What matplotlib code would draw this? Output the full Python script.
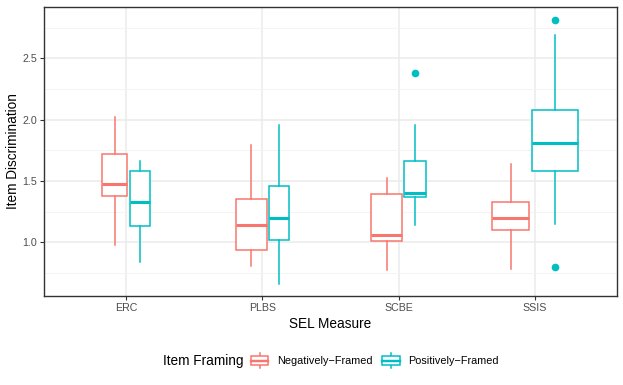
import matplotlib
matplotlib.use("Agg")
from matplotlib import pyplot as plt
from matplotlib.legend_handler import HandlerBase
from matplotlib.patches import Rectangle, Patch
from matplotlib.lines import Line2D
from matplotlib.ticker import MultipleLocator

plt.rcParams['font.family'] = ['Liberation Sans', 'DejaVu Sans']

measures = ["ERC", "PLBS", "SCBE", "SSIS"]
framings = ["Negatively\u2212Framed", "Positively\u2212Framed"]

# box statistics per measure: [negative, positive]
whislo = [[0.98, 0.84], [0.81, 0.66], [0.77, 1.14], [0.78, 1.15]]
q1 = [[1.38, 1.13], [0.94, 1.02], [1.01, 1.37], [1.10, 1.58]]
med = [[1.475, 1.325], [1.14, 1.20], [1.06, 1.40], [1.20, 1.81]]
q3 = [[1.72, 1.58], [1.35, 1.46], [1.39, 1.665], [1.33, 2.075]]
whishi = [[2.02, 1.66], [1.79, 1.955], [1.52, 1.955], [1.64, 2.69]]
fliers = [[[], []], [[], []], [[], [2.38]], [[], [2.815, 0.795]]]

# varwidth box widths (data units)
widths = [[0.187, 0.151], [0.229, 0.144], [0.222, 0.159], [0.276, 0.339]]
gap = 0.018

colors = ["#F8766D", "#00BFC4"]
lw = 1.1


class HandlerBox(HandlerBase):
    def create_artists(self, legend, orig_handle, xdescent, ydescent,
                       width, height, fontsize, trans):
        c = orig_handle.get_edgecolor()
        h = height * 1.5
        y0 = -ydescent - (h - height) / 2
        bh = h * 0.6
        by = y0 + (h - bh) / 2
        box = Rectangle((-xdescent, by), width, bh, facecolor="white",
                        edgecolor=c, lw=lw, transform=trans)
        mid = Line2D([-xdescent, -xdescent + width], [by + bh / 2] * 2,
                     color=c, lw=lw * 1.6, transform=trans)
        wx = -xdescent + width / 2
        w1 = Line2D([wx, wx], [y0, by], color=c, lw=lw, transform=trans)
        w2 = Line2D([wx, wx], [by + bh, y0 + h], color=c, lw=lw, transform=trans)
        return [w1, w2, box, mid]


fig = plt.figure(figsize=(6.23, 3.85), dpi=100)
ax = fig.add_axes([0.0711, 0.2312, 0.9188, 0.7514])

for i in range(len(measures)):
    total = widths[i][0] + widths[i][1] + gap
    left = (i + 1) - total / 2
    centers = [left + widths[i][0] / 2, left + widths[i][0] + gap + widths[i][1] / 2]
    for j in range(2):
        stats = [dict(whislo=whislo[i][j], q1=q1[i][j], med=med[i][j],
                      q3=q3[i][j], whishi=whishi[i][j], fliers=fliers[i][j])]
        c = colors[j]
        ax.bxp(stats, positions=[centers[j]], widths=[widths[i][j]],
               patch_artist=True, showcaps=False, manage_ticks=False,
               boxprops=dict(facecolor="white", edgecolor=c, lw=lw),
               whiskerprops=dict(color=c, lw=lw),
               medianprops=dict(color=c, lw=lw * 2.0, solid_capstyle="butt"),
               flierprops=dict(marker="o", markerfacecolor=c, markeredgecolor=c,
                               markersize=4.5, linestyle="none"),
               zorder=3)

ax.set_xlim(0.4, 4.6)
ax.set_ylim(0.562, 2.92)
ax.set_xticks(range(1, len(measures) + 1))
ax.set_xticklabels(measures)
ax.yaxis.set_major_locator(MultipleLocator(0.5))
ax.yaxis.set_minor_locator(MultipleLocator(0.25))
ax.grid(True, which="major", color="#EBEBEB", lw=1.1, zorder=0)
ax.grid(True, which="minor", axis="y", color="#F3F3F3", lw=0.6, zorder=0)
ax.set_axisbelow(True)
for s in ax.spines.values():
    s.set_color("#333333")
    s.set_linewidth(1.0)
ax.tick_params(which="major", colors="#333333", labelcolor="#4D4D4D",
               labelsize=7.7, length=3, width=0.8, pad=2)
ax.tick_params(which="minor", length=0)

ax.set_xlabel("SEL Measure", fontsize=9.8, labelpad=3)
ax.set_ylabel("Item Discrimination", fontsize=9.8)
ax.yaxis.set_label_coords(-0.042, 0.5)

fig.text(163 / 623, 1 - 361 / 385, "Item Framing", fontsize=9.8, va="center", ha="left")
handles = [Patch(edgecolor=c, facecolor="white") for c in colors]
fig.legend(handles, framings, handler_map={Patch: HandlerBox()},
           loc="center left", bbox_to_anchor=(251 / 623, 1 - 361 / 385),
           ncol=2, frameon=False, fontsize=7.8, borderpad=0, borderaxespad=0,
           handlelength=1.6, handleheight=1.0, handletextpad=0.8,
           columnspacing=0.9)

fig.savefig("out.png", dpi=100)
